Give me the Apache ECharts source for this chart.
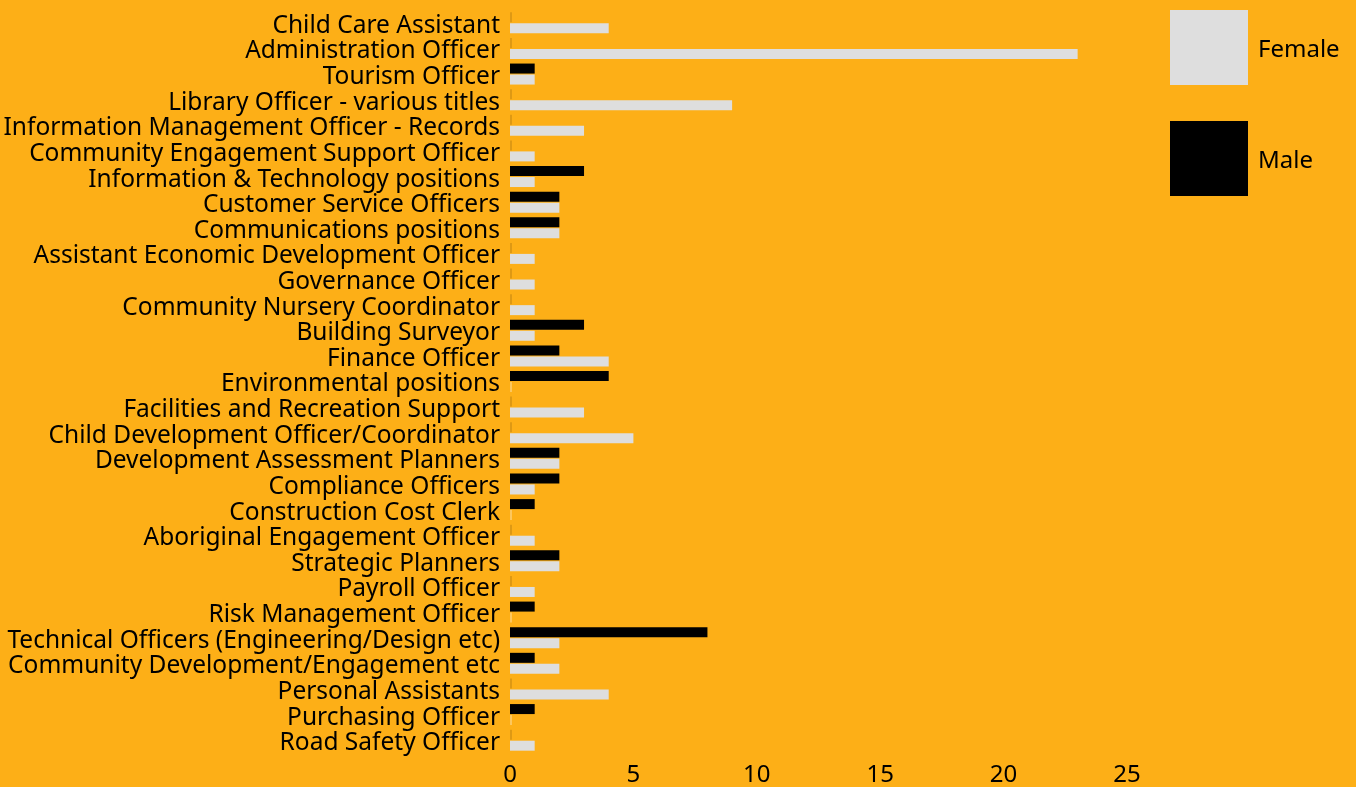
<!DOCTYPE html>
<html>
<head>
<meta charset="utf-8">
<script src="https://cdn.jsdelivr.net/npm/echarts@6/dist/echarts.min.js"></script>
<style>
    html, body { margin: 0; padding: 0; background: #FDAF17; }
    #chart { width: 1356px; height: 787px; }
</style>
</head>
<body>
<div id="chart"></div>
<script>
    var categories = [
        'Child Care Assistant',
        'Administration Officer',
        'Tourism Officer',
        'Library Officer - various titles',
        'Information Management Officer - Records',
        'Community Engagement Support Officer',
        'Information & Technology positions',
        'Customer Service Officers',
        'Communications positions',
        'Assistant Economic Development Officer',
        'Governance Officer',
        'Community Nursery Coordinator',
        'Building Surveyor',
        'Finance Officer',
        'Environmental positions',
        'Facilities and Recreation Support',
        'Child Development Officer/Coordinator',
        'Development Assessment Planners',
        'Compliance Officers',
        'Construction Cost Clerk',
        'Aboriginal Engagement Officer',
        'Strategic Planners',
        'Payroll Officer',
        'Risk Management Officer',
        'Technical Officers (Engineering/Design etc)',
        'Community Development/Engagement etc',
        'Personal Assistants',
        'Purchasing Officer',
        'Road Safety Officer'
    ]
    var female = [4, 23, 1, 9, 3, 1, 1, 2, 2, 1, 1, 1, 1, 4, 0, 3, 5, 2, 1, 0, 1, 2, 1, 0, 2, 2, 4, 0, 1]
    var male   = [0, 0, 1, 0, 0, 0, 3, 2, 2, 0, 0, 0, 3, 2, 4, 0, 0, 2, 2, 1, 0, 2, 0, 1, 8, 1, 0, 1, 0]
    var xTicks = [0, 5, 10, 15, 20, 25]

    var font = 'Noto Sans'

    // zero values still show a faint stub at the axis
    function withStubs(values, stubColor) {
        return values.map(function (v) {
            return v === 0 ? { value: 0, itemStyle: { color: stubColor } } : v
        })
    }

    // rich text so the labels can sit a few px lower
    function lowered(text) {
        return '{t|' + text + '}'
    }

    var chart = echarts.init(document.getElementById('chart'))

    chart.setOption({
        backgroundColor: '#FDAF17',
        animation: false,
        legend: {
            data: ['Female', 'Male'],
            orient: 'vertical',
            left: 1170,
            top: 10,
            padding: 0,
            itemWidth: 78,
            itemHeight: 75,
            itemGap: 36,
            icon: 'rect',
            formatter: lowered,
            textStyle: {
                fontFamily: font,
                fontSize: 24,
                color: '#000',
                rich: {
                    t: { fontFamily: font, fontSize: 24, color: '#000', padding: [5, 0, 0, 5] }
                }
            }
        },
        grid: {
            left: 510,
            right: 229,
            top: 10,
            bottom: 34
        },
        xAxis: {
            type: 'value',
            min: xTicks[0],
            max: xTicks[xTicks.length - 1],
            interval: 5,
            axisLine: { show: false },
            axisTick: { show: false },
            splitLine: { show: false },
            axisLabel: {
                fontFamily: font,
                fontSize: 24,
                color: '#000',
                margin: 10
            }
        },
        yAxis: {
            type: 'category',
            inverse: true,
            data: categories,
            axisLine: { show: false },
            axisTick: { show: false },
            axisLabel: {
                interval: 0,
                margin: 10,
                formatter: lowered,
                rich: {
                    t: { fontFamily: font, fontSize: 24.5, color: '#000', padding: [6, 0, 0, 0] }
                }
            }
        },
        series: [
            {
                name: 'Male',
                type: 'bar',
                color: '#000000',
                barWidth: 10,
                barGap: '10%',
                barMinHeight: 2,
                data: withStubs(male, 'rgba(0,0,0,0.12)')
            },
            {
                name: 'Female',
                type: 'bar',
                color: '#DEDEDE',
                barWidth: 10,
                barGap: '10%',
                barMinHeight: 2,
                data: withStubs(female, 'rgba(255,255,255,0.3)')
            }
        ]
    })
</script>
</body>
</html>
